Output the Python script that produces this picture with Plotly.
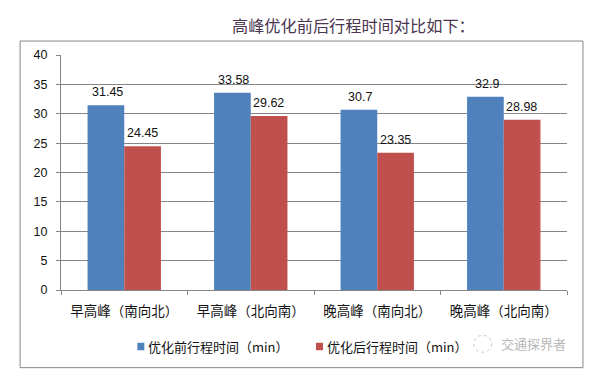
import plotly.graph_objects as go

categories = ["早高峰（南向北）", "早高峰（北向南）", "晚高峰（南向北）", "晚高峰（北向南）"]
before_name = "优化前行程时间（min）"
after_name = "优化后行程时间（min）"
before = [31.45, 33.58, 30.7, 32.9]
after = [24.45, 29.62, 23.35, 28.98]
title_text = "高峰优化前后行程时间对比如下："
watermark = "交通探界者"

OFF = 8  # the page adds an 8px body margin
W, H = 600 - OFF, 377 - OFF
L, R, T, B = 60.5, 567.5, 54.5, 290.5
FONT = "Noto Sans CJK SC"
GREY = "#868686"
BLUE, RED = "#4F81BD", "#C0504D"


def px(x):
    return (x - L) / (R - L)


def py(y):
    return 1 - (y - T) / (B - T)


fig = go.Figure()
fig.add_bar(x=categories, y=before, name=before_name, marker=dict(color=BLUE, line_width=0))
fig.add_bar(x=categories, y=after, name=after_name, marker=dict(color=RED, line_width=0))

ann = []
for cat, a, b in zip(categories, before, after):
    for v, dx in ((a, -17), (b, 18)):
        ann.append(dict(x=cat, y=v, text=str(v), showarrow=False, xshift=dx, yshift=4,
                        yanchor="bottom", xanchor="center",
                        font=dict(size=12.5, color="#111111", family="Liberation Sans")))


def label(x, y, text, size, color, anchor="left"):
    ann.append(dict(xref="paper", yref="paper", x=px(x), y=py(y), text=text, showarrow=False,
                    xanchor=anchor, yanchor="middle", font=dict(size=size, color=color, family=FONT)))


label(230, 24, title_text, 16.2, "#4A3650")
label(146, 347, before_name, 13, "#111111")
label(325, 347, after_name, 13, "#111111")
label(569, 344, watermark, 13, "#B8B8B8", "right")


def square(x0, x1, color):
    return dict(type="rect", xref="paper", yref="paper", x0=px(x0), x1=px(x1), y0=py(351), y1=py(343.5),
                line_width=0, fillcolor=color)


shapes = [
    dict(type="rect", xref="paper", yref="paper", x0=px(19.5), x1=px(583.5), y0=py(368.5), y1=py(40.5),
         line=dict(color=GREY, width=1), fillcolor="rgba(0,0,0,0)", layer="below"),
    square(137, 144, BLUE),
    square(316, 323, RED),
    dict(type="circle", xref="paper", yref="paper", x0=px(474), x1=px(492), y0=py(353), y1=py(336),
         line=dict(color="#C8C8C8", width=1, dash="dot"), fillcolor="rgba(0,0,0,0)"),
]

fig.update_layout(
    width=W, height=H, autosize=False,
    margin=dict(l=L - OFF, r=W + OFF - R, t=T - OFF, b=H + OFF - B, pad=0),
    paper_bgcolor="white", plot_bgcolor="white",
    barmode="group", bargap=0.42, bargroupgap=0,
    showlegend=False,
    annotations=ann,
    shapes=shapes,
)
fig.update_xaxes(showline=True, linecolor=GREY, linewidth=1, ticks="outside", ticklen=4, tickcolor=GREY,
                 tickson="boundaries", showgrid=False, ticklabelstandoff=9,
                 tickfont=dict(size=13.5, color="#111111", family=FONT))
fig.update_yaxes(range=[0, 40], dtick=5, showline=True, linecolor=GREY, linewidth=1,
                 showgrid=True, gridcolor=GREY, gridwidth=1, zeroline=False,
                 ticks="outside", ticklen=4, tickcolor=GREY, ticklabelstandoff=6,
                 tickfont=dict(size=12.5, color="#111111", family="Liberation Sans"))
fig.write_html("out.html", config=dict(displayModeBar=False))
